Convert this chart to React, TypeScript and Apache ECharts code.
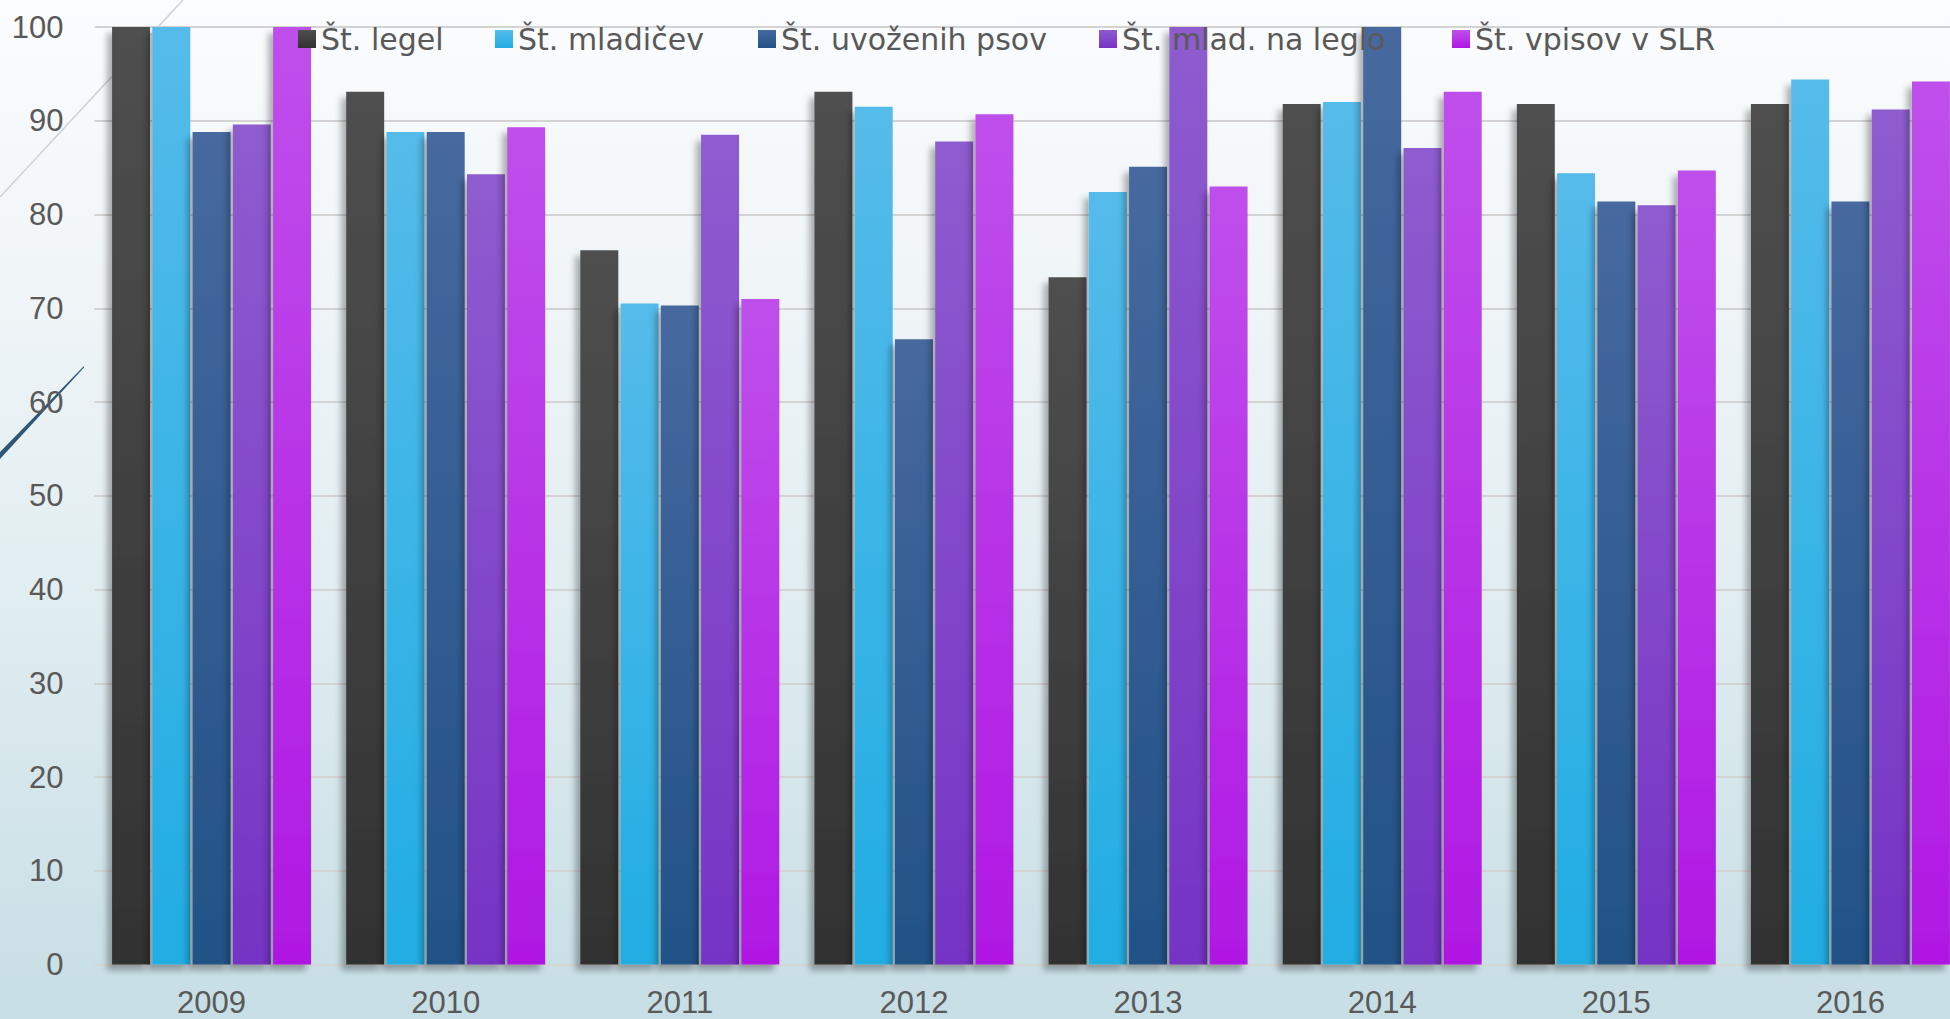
import React, { useEffect, useRef } from "react";
import * as echarts from "echarts";

const years = ["2009", "2010", "2011", "2012", "2013", "2014", "2015", "2016"];
const seriesNames = ["Št. legel", "Št. mladičev", "Št. uvoženih psov", "Št. mlad. na leglo", "Št. vpisov v SLR"];
const legel = [100, 93.1, 76.2, 93.1, 73.3, 91.8, 91.8, 91.8];
const mladicev = [100, 88.8, 70.5, 91.5, 82.4, 92.0, 84.4, 94.4];
const uvozenih = [88.8, 88.8, 70.3, 66.7, 85.1, 100, 81.4, 81.4];
const leglo = [89.6, 84.3, 88.5, 87.8, 100, 87.1, 81.0, 91.2];
const vpisov = [100, 89.3, 71.0, 90.7, 83.0, 93.1, 84.7, 94.2];
const seriesData = [legel, mladicev, uvozenih, leglo, vpisov];

const topColors = ["#4f4f4f", "#55bbea", "#46699f", "#8e5ccf", "#bf4feb"];
const bottomColors = ["#323232", "#21ade3", "#225287", "#7633c4", "#b018e3"];
const legendLefts = [298, 495, 758, 1099, 1452];

const CW = 2000;
const CH = 1019;

function grad(i: number) {
  return {
    type: "linear",
    x: 0,
    y: 0,
    x2: 0,
    y2: 1,
    colorStops: [
      { offset: 0, color: topColors[i] },
      { offset: 1, color: bottomColors[i] },
    ],
  };
}

export default function App() {
  const ref = useRef<HTMLDivElement>(null);
  useEffect(() => {
    const chart = echarts.init(ref.current!, null, { renderer: "svg", width: CW, height: CH });
    const option: any = {
      animation: false,
      backgroundColor: "transparent",
      grid: { left: 94.5, top: 27, right: CW - 94.5 - 1873, bottom: CH - 964.5, containLabel: false },
      legend: seriesNames.map((n, i) => ({
        data: [n],
        left: legendLefts[i],
        top: 24,
        padding: 0,
        itemWidth: 18,
        itemHeight: 18,
        icon: "rect",
        selectedMode: false,
        textStyle: { fontFamily: "DejaVu Sans", fontSize: 30, color: "#595959" },
      })),
      xAxis: {
        type: "category",
        data: years,
        axisTick: { show: false },
        axisLine: { show: true, lineStyle: { color: "#d6d6d6", width: 2 } },
        axisLabel: { fontFamily: "Liberation Sans", fontSize: 31, color: "#595959", margin: 22 },
        splitLine: { show: false },
      },
      yAxis: {
        type: "value",
        min: 0,
        max: 100,
        interval: 10,
        axisLine: { show: false },
        axisTick: { show: false },
        axisLabel: { fontFamily: "Liberation Sans", fontSize: 31, color: "#595959", margin: 31 },
        splitLine: { show: true, lineStyle: { color: "#d3d3d3", width: 2 } },
      },
      graphic: [
        {
          type: "line",
          z: 0,
          silent: true,
          shape: { x1: 183, y1: 0, x2: 0, y2: 197 },
          style: { stroke: "#c8d2d8", lineWidth: 1.5 },
        },
        {
          type: "polygon",
          z: 0,
          silent: true,
          shape: { points: [[0, 452], [84, 366], [84, 367.5], [0, 459]] },
          style: { fill: "#2d5677" },
        },
      ],
      series: seriesNames.map((n, i) => ({
        name: n,
        type: "bar",
        data: seriesData[i],
        barGap: "6%",
        barCategoryGap: "15%",
        itemStyle: {
          color: grad(i),
          shadowBlur: 6,
          shadowColor: "rgba(0,0,0,0.3)",
          shadowOffsetX: -5,
          shadowOffsetY: 6,
        },
        emphasis: { disabled: true },
      })),
    };
    chart.setOption(option);
    return () => chart.dispose();
  }, []);
  return (
    <div
      ref={ref}
      style={{
        position: "fixed",
        left: 0,
        top: 0,
        width: CW,
        height: CH,
        background: "linear-gradient(180deg, #fbfcfd 0%, #f5f8fa 15%, #e3eef2 55%, #c6dee4 100%)",
      }}
    />
  );
}
